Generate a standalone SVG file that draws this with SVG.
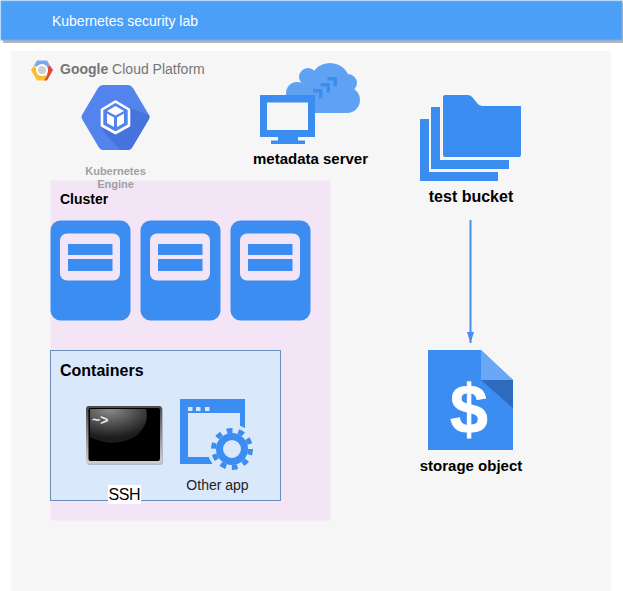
<svg xmlns="http://www.w3.org/2000/svg" width="623" height="591" viewBox="0 0 623 591">
<defs>
<style>
text{font-family:"Liberation Sans",Arial,sans-serif}
.b{font-weight:bold;fill:#000}
.blue{fill:#3b8df1}
.cloud{fill:#5fa2f4}
.lt{fill:#dae8fc}
.wire{stroke:#4a8cf0;stroke-width:2;fill:none}
</style>
<marker id="arrow" viewBox="0 0 11 7" refX="11" refY="3.500" markerWidth="11" markerHeight="7" markerUnits="userSpaceOnUse" orient="auto"><path d="M0 0L11 3.500L0 7Z" fill="#4a8cf0"/></marker>
<radialGradient id="gloss" cx="0.35" cy="0" r="0.85"><stop offset="0" stop-color="#8c8c8c"/><stop offset="1" stop-color="#1c1c1c"/></radialGradient>
<linearGradient id="frame" x1="0" y1="0" x2="0" y2="1"><stop offset="0" stop-color="#4a4a4a"/><stop offset="1" stop-color="#d0d0d0"/></linearGradient>
<g id="srv"><rect x="0" y="0" width="80" height="100" rx="10" class="blue"/><rect x="9.500" y="13" width="60" height="47" rx="7" fill="#f3e5f5"/><rect x="17.500" y="23.500" width="44.500" height="11" class="blue"/><rect x="17.500" y="38.500" width="44.500" height="12" class="blue"/></g>
</defs>
<rect width="623" height="591" fill="#fff"/>
<g id="banner"><rect x="3" y="3" width="620" height="40" fill="#b5b5b5"/><rect x="1" y="1" width="621" height="39" fill="#4b9ff6" stroke="#6fb1f8"/><text x="52" y="26" font-size="14" fill="#fff" textLength="146">Kubernetes security lab</text></g>
<g id="platform"><rect x="11" y="51" width="600" height="540" fill="#f6f6f6"/>
<path d="M37 60.500H47L50 65.500L47 67H37.500L34 65.500Z" fill="#7aa6f2"/>
<path d="M31 70L34 65.500L37.500 70L40 75.500H47L44 80.500H37Z" fill="#fbc02d"/>
<path d="M50 65.500L53 70L47 80.500H44L47 75.500L48 70L47 67Z" fill="#e04a37"/>
<circle cx="42" cy="70" r="6" fill="#fff"/><circle cx="42" cy="70" r="4" fill="#cfcfcf"/>
<text x="60" y="74" font-size="14" fill="#757575"><tspan font-weight="bold">Google</tspan> Cloud Platform</text></g>
<g id="metadata-server">
<g class="cloud"><circle cx="330" cy="83" r="20"/><circle cx="308" cy="77" r="9"/><circle cx="297" cy="93" r="11"/><circle cx="348" cy="83" r="9"/><circle cx="347" cy="100" r="13"/><rect x="290" y="85" width="55" height="28"/></g>
<path d="M313 89H322.500V98.500H319V92.500H313Z M320.500 83H330V92.500H326.500V86.500H320.500Z M327.500 77H337V86.500H333.500V80.500H327.500Z" class="blue"/>
<rect x="260" y="95" width="55" height="42" class="blue"/><rect x="267" y="102.500" width="41" height="27.500" fill="#f6f6f6"/><rect x="278" y="137" width="20" height="4" class="blue"/><rect x="271" y="140.500" width="34" height="3.500" class="blue"/>
<text x="310.500" y="164" font-size="15" class="b" text-anchor="middle">metadata server</text></g>
<g id="test-bucket"><path d="M420 119H429V172H498V181H420Z" class="blue"/><path d="M431 107H440V160H509V169H431Z" class="blue"/><path d="M445 95H468Q471 95 473 98L477 103Q479 106 482 106H521V155Q521 157 519 157H445Q443 157 443 155V97Q443 95 445 95Z" class="blue"/><text x="471" y="202" font-size="16" class="b" text-anchor="middle">test bucket</text></g>
<g id="cluster"><rect x="50.500" y="180.500" width="280" height="340" fill="#f3e5f5"/><text x="60" y="204" font-size="14" class="b">Cluster</text></g>
<g id="kubernetes-engine"><path d="M82 115L98 88Q100 85 103 85H128Q131 85 133 88L149 115Q150 117 149 119L133 146Q131 150 128 150H103Q100 150 98 146L82 119Q81 117 82 115Z" fill="#5384ed"/><path d="M125 106L149 115Q150 117 149 119L133 146Q131 150 128 150H120L102 130Z" fill="#4774dc"/><path d="M115.500 101.500L129 109.500V125.500L115.500 133L102 125.500V109.500Z" fill="#5384ed" stroke="#fff" stroke-width="2.600" stroke-linejoin="round"/><path d="M115.500 106L124 111L115.500 115.500L107 111Z" fill="#fff"/><path d="M107 113.500L114 117.500V127L107 123Z" fill="#fff"/><path d="M124 113.500L117 117.500V127L124 123Z" fill="#fff"/>
<text text-anchor="middle" font-size="11" font-weight="bold" fill="#a0a0a0"><tspan x="115.500" y="175">Kubernetes</tspan><tspan x="115.500" y="188">Engine</tspan></text></g>
<g id="node-1"><use href="#srv" x="50.500" y="220.500"/></g>
<g id="node-2"><use href="#srv" x="140.500" y="220.500"/></g>
<g id="node-3"><use href="#srv" x="230.500" y="220.500"/></g>
<g id="containers"><rect x="50.500" y="350.500" width="230" height="150" class="lt" stroke="#6c8ebf"/><text x="60" y="376" font-size="16" class="b">Containers</text></g>
<g id="ssh"><rect x="87" y="407" width="76" height="58" rx="3" fill="#5c6470" opacity=".35"/><rect x="86" y="406" width="76" height="57.500" rx="3" fill="url(#frame)"/><rect x="88.500" y="408" width="71.500" height="53" rx="2" fill="#000"/><path d="M90 409H146Q150 424 136 436Q114 449 90 437Z" fill="url(#gloss)"/><text x="92" y="425" font-size="14" font-weight="bold" fill="#e8e8e8">~&gt;</text><rect x="108" y="485" width="33" height="19" fill="#fff"/><text x="124.500" y="500" font-size="16" fill="#000" text-anchor="middle" textLength="32">SSH</text></g>
<g id="other-app"><rect x="180" y="399" width="65" height="65" class="blue"/><rect x="188" y="413" width="52" height="44" class="lt"/><circle cx="232" cy="449" r="24.500" class="lt"/><rect x="188" y="407" width="4.500" height="4" class="lt"/><rect x="196" y="407" width="4.500" height="4" class="lt"/><rect x="205" y="407" width="4.500" height="4" class="lt"/><circle cx="232" cy="449" r="12.500" fill="none" stroke="#3b8df1" stroke-width="7"/><circle cx="232" cy="449" r="18.500" fill="none" stroke="#3b8df1" stroke-width="5" stroke-dasharray="5.810 5.810"/><text x="217.500" y="490" font-size="14" fill="#222" text-anchor="middle">Other app</text></g>
<g id="storage-object"><path d="M428 350H481L513 380V450H428Z" class="blue"/><path d="M481 350L513 380H481Z" fill="#6aa8f6"/><path d="M481 380H513V408Z" fill="#2c6bbd"/><text x="469" y="433" font-size="68" font-weight="bold" fill="#fff" stroke="#fff" stroke-width=".8" text-anchor="middle">$</text><text x="471" y="471" font-size="15" class="b" text-anchor="middle">storage object</text></g>
<g id="connectors"><path class="wire" d="M470.500 220V343" marker-end="url(#arrow)"/></g>
</svg>
